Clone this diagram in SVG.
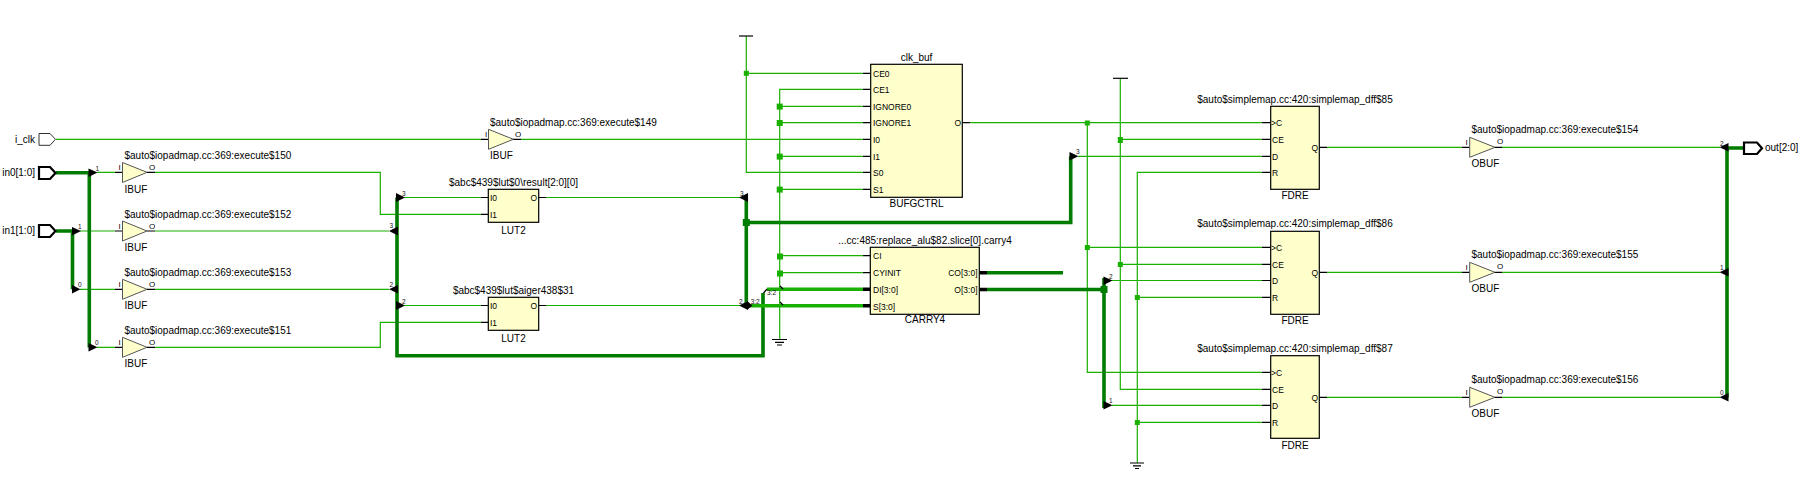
<svg xmlns="http://www.w3.org/2000/svg" width="1808" height="499" viewBox="0 0 1808 499">
<style>
text{font-family:"Liberation Sans",Arial,sans-serif;font-size:10px;fill:#000}
.m{text-anchor:middle}.e{text-anchor:end}
.n{font-size:6.5px;fill:#111}
.p{font-size:8.5px}
.q{font-size:8px}
.w{fill:none;stroke:#19b000;stroke-width:1.2}
.b{fill:none;stroke:#007c00;stroke-width:3.6}
.l{fill:none;stroke:#19b000;stroke-width:3.6}
.s{stroke:#000;stroke-width:1.2;fill:none}
.st{stroke:#000;stroke-width:3.6;fill:none}
.box{fill:#ffffcc;stroke:#000;stroke-width:1.2}
.tri{fill:#ffffcc;stroke:#555;stroke-width:1}
.pad{fill:#fff;stroke:#000;stroke-width:2.2}
.padt{fill:#fff;stroke:#333;stroke-width:1}
.j{fill:#19b000}.jb{fill:#007c00}
.r{fill:#000}
</style>
<g id="connectors">
<path class="w" d="M56 139.3H481M521 139.3H863"/>
<path class="w" d="M97 172.3H115M80 231H115M80 289.3H115M97 347.3H115"/>
<path class="w" d="M155 172.3H380.3V214.3H481M155 231H389M155 289.3H389M155 347.3H380.3V322.3H481"/>
<path class="w" d="M404 197.5H481M404 305.5H481M546 197.5H740M546 305.5H740"/>
<path class="w" d="M746.3 36V172.3H863M746.3 73.3H863"/>
<path class="w" d="M863 89.3H779.7V339.5M779.7 106.3H863M779.7 122.7H863M779.7 156.3H863M779.7 189.3H863M779.7 255.7H863M779.7 272.7H863"/>
<path class="w" d="M970 122.7H1262M1087.3 122.7V372.3H1262M1087.3 247.3H1262"/>
<path class="w" d="M1120.3 78.3V389.3H1262M1120.3 139.3H1262M1120.3 264.3H1262"/>
<path class="w" d="M1078 156.3H1262M1112 280.5H1262M1112 405.3H1262"/>
<path class="w" d="M1262 172.3H1137.3V462.7M1137.3 297.3H1262M1137.3 422.3H1262"/>
<path class="w" d="M1327 147.3H1462M1327 272.3H1462M1327 397.3H1462M1502 147.3H1720M1502 272.3H1720M1502 397.3H1720"/>
<path class="b" d="M56 172.7H89.3V347.5M56 231H72.5V289.3"/>
<path class="b" d="M397 197.5V355.7H763V293"/>
<path class="b" d="M746.3 197.5V305.5M746.3 222.5H1070.7V156.3"/>
<path class="b" d="M987 272.7H1063M987 289.5H1104M1104 278V408"/>
<path class="b" d="M1727 147.5V397.5M1727 148H1745"/>
<path class="l" d="M767 289.3H863M750 305.7H863"/>
<path d="M763.5 293L767 289M780 286L783 289M780 302L783 305" stroke="#000" stroke-width="1.2" fill="none"/>
<g class="j">
<rect x="743.8" y="70.8" width="5" height="5"/>
<rect x="776.7" y="103.6" width="6" height="6"/><rect x="776.7" y="120" width="6" height="6"/><rect x="776.7" y="153.6" width="6" height="6"/><rect x="776.7" y="186.6" width="6" height="6"/><rect x="777" y="253.5" width="6" height="6"/><rect x="777" y="270.5" width="6" height="6"/>
<rect x="1084.8" y="120.5" width="5" height="5"/><rect x="1084.8" y="245" width="5" height="5"/>
<rect x="1117.8" y="137" width="5" height="6"/><rect x="1117.8" y="262" width="5" height="5"/>
<rect x="1134.8" y="295" width="5" height="5"/><rect x="1134.8" y="420" width="5" height="5"/>
</g>
<g class="jb"><rect x="742.8" y="219" width="7" height="7"/><rect x="1100.5" y="286" width="7" height="7"/></g>
<g class="r">
<path d="M88.5 168.5L97.5 172.5L88.5 177ZM72 227L81 231L72 235.5ZM72 285L80.5 289.3L72 293.5ZM88.5 343L97.5 347.3L88.5 351.5Z"/>
<path d="M396 193L405 197.5L396 202ZM396 301L405 305.5L396 310ZM389 231L398 226.5V235.5ZM389 289.3L398 285V293.5Z"/>
<path d="M739 197.5L748 193V202ZM739 305.5L748 301V310ZM747 301L752.5 305.5L747 310Z"/>
<path d="M1069.5 152L1078.5 156.3L1069.5 160.5ZM1103.5 276.5L1112.5 280.5L1103.5 285ZM1103.5 401L1112.5 405.3L1103.5 409.5Z"/>
<path d="M1719.5 147.3L1728.5 143V151.5ZM1719.5 272.3L1728.5 268V276.5ZM1719.5 397.3L1728.5 393V401.5Z"/>
</g>
<g>
<text class="n" x="95.5" y="171">1</text><text class="n" x="78" y="229">1</text><text class="n" x="78" y="287">0</text><text class="n" x="95" y="345">0</text>
<text class="n" x="389.5" y="228">3</text><text class="n" x="389.5" y="287">2</text><text class="n" x="402" y="196">3</text><text class="n" x="402" y="304">2</text>
<text class="n" x="740" y="196">3</text><text class="n" x="739" y="303.5">2</text><text class="n" x="750.7" y="303.5">3:2</text><text class="n" x="767" y="295">3:2</text>
<text class="n" x="1076" y="154">3</text><text class="n" x="1109" y="279">2</text><text class="n" x="1109" y="403">1</text>
<text class="n" x="1720" y="146">2</text><text class="n" x="1720" y="270">1</text><text class="n" x="1720" y="395">0</text>
</g>
</g>

<g id="i_clk"><path class="padt" d="M39 133.5H50L55.5 139.3L50 145.3H39Z"/><text class="e" x="35" y="143">i_clk</text></g>
<g id="in0"><path class="pad" d="M39 167H50L55.5 173L50 179H39Z"/><text class="e" x="35" y="176">in0[1:0]</text></g>
<g id="in1"><path class="pad" d="M39 225H50L55.5 231L50 237H39Z"/><text class="e" x="35" y="234">in1[1:0]</text></g>
<g id="out"><path class="pad" d="M1744 142.5H1757L1762 148.3L1757 154H1744Z"/><text x="1765" y="151">out[2:0]</text></g>

<g id="ibuf150"><path class="s" d="M115 172.3H122.5M147 172.3H155"/><path class="tri" d="M122.5 162.5L147 172.3L122.5 182.5Z"/><text x="124.5" y="159">$auto$iopadmap.cc:369:execute$150</text><text x="124.5" y="192.5">IBUF</text><text class="q" x="118.5" y="170">I</text><text class="q" x="149" y="170">O</text></g>
<g id="ibuf152"><path class="s" d="M115 231H122.5M147 231H155"/><path class="tri" d="M122.5 221L147 231L122.5 241Z"/><text x="124.5" y="217.5">$auto$iopadmap.cc:369:execute$152</text><text x="124.5" y="250.5">IBUF</text><text class="q" x="118.5" y="228.5">I</text><text class="q" x="149" y="228.5">O</text></g>
<g id="ibuf153"><path class="s" d="M115 289.3H122.5M147 289.3H155"/><path class="tri" d="M122.5 279.3L147 289.3L122.5 299.3Z"/><text x="124.5" y="276">$auto$iopadmap.cc:369:execute$153</text><text x="124.5" y="308.5">IBUF</text><text class="q" x="118.5" y="287">I</text><text class="q" x="149" y="287">O</text></g>
<g id="ibuf151"><path class="s" d="M115 347.3H122.5M147 347.3H155"/><path class="tri" d="M122.5 337.3L147 347.3L122.5 357.3Z"/><text x="124.5" y="334">$auto$iopadmap.cc:369:execute$151</text><text x="124.5" y="367">IBUF</text><text class="q" x="118.5" y="345">I</text><text class="q" x="149" y="345">O</text></g>
<g id="ibuf149"><path class="s" d="M481 139.3H488.5M513 139.3H521"/><path class="tri" d="M488.5 129.3L513.3 139.3L488.5 149.3Z"/><text x="490" y="126">$auto$iopadmap.cc:369:execute$149</text><text x="490" y="158.5">IBUF</text><text class="q" x="485" y="137">I</text><text class="q" x="515" y="137">O</text></g>

<g id="lut0"><path class="s" d="M481 197.5H488.3M481 214.3H488.3M538.7 197.5H546"/><rect class="box" x="488.3" y="189.3" width="50.4" height="33"/><text class="m" x="513.5" y="186">$abc$439$lut$0\result[2:0][0]</text><text class="m" x="513.5" y="233.5">LUT2</text><text class="p" x="490" y="201">I0</text><text class="p" x="490" y="218">I1</text><text class="p e" x="537" y="201">O</text></g>
<g id="lut1"><path class="s" d="M481 305.5H488.3M481 322.3H488.3M538.7 305.5H546"/><rect class="box" x="488.3" y="297.3" width="50.4" height="33"/><text class="m" x="513.5" y="294">$abc$439$lut$aiger438$31</text><text class="m" x="513.5" y="341.5">LUT2</text><text class="p" x="490" y="309">I0</text><text class="p" x="490" y="326">I1</text><text class="p e" x="537" y="309">O</text></g>

<g id="clk_buf"><path class="s" d="M863 73.3H870.7M863 89.3H870.7M863 106.3H870.7M863 122.7H870.7M863 139.3H870.7M863 156.3H870.7M863 172.3H870.7M863 189.3H870.7M962.3 122.7H970"/><rect class="box" x="870.7" y="64.3" width="91.6" height="133"/><text class="m" x="916.5" y="60.5">clk_buf</text><text class="m" x="916.5" y="207">BUFGCTRL</text>
<text class="p" x="873" y="76.5">CE0</text><text class="p" x="873" y="93">CE1</text><text class="p" x="873" y="109.5">IGNORE0</text><text class="p" x="873" y="126">IGNORE1</text><text class="p" x="873" y="143">I0</text><text class="p" x="873" y="159.5">I1</text><text class="p" x="873" y="176">S0</text><text class="p" x="873" y="192.5">S1</text><text class="p e" x="961" y="126">O</text></g>

<g id="carry4"><path class="s" d="M863 255.7H870.3M863 272.7H870.3"/><path class="st" d="M863 289.3H870.3M863 305.7H870.3M979.3 272.7H987M979.3 289.5H987"/><rect class="box" x="870.3" y="247.3" width="109" height="67"/><text class="m" x="925" y="244">...cc:485:replace_alu$82.slice[0].carry4</text><text class="m" x="925" y="323">CARRY4</text><text class="p" x="873" y="259">CI</text><text class="p" x="873" y="276">CYINIT</text><text class="p" x="873" y="293">DI[3:0]</text><text class="p" x="873" y="309.5">S[3:0]</text><text class="p e" x="977.5" y="276">CO[3:0]</text><text class="p e" x="977.5" y="293">O[3:0]</text></g>

<g id="vcc0"><path class="s" d="M739 36H753"/></g>
<g id="gnd0"><path class="s" d="M772 339.5H787M775 342.3H784M777 345H782"/></g>
<g id="vcc1"><path class="s" d="M1113 78.3H1128"/></g>
<g id="gnd1"><path class="s" d="M1130 463H1144M1133 465.8H1141M1135 468.5H1139"/></g>

<g id="ff85"><path class="s" d="M1262 122.7H1270.7M1262 139.3H1270.7M1262 156.3H1270.7M1262 172.3H1270.7M1319.3 147.3H1327"/><rect class="box" x="1270.7" y="106.3" width="48.6" height="83"/><text class="m" x="1295" y="102.7">$auto$simplemap.cc:420:simplemap_dff$85</text><text class="m" x="1295" y="198.5">FDRE</text><text class="p" x="1271" y="126">&gt;C</text><text class="p" x="1272" y="143">CE</text><text class="p" x="1272" y="159.5">D</text><text class="p" x="1272" y="176">R</text><text class="p e" x="1318" y="151">Q</text></g>
<g id="ff86"><path class="s" d="M1262 247.3H1270.7M1262 264.3H1270.7M1262 280.5H1270.7M1262 297.3H1270.7M1319.3 272.3H1327"/><rect class="box" x="1270.7" y="231.3" width="48.6" height="83"/><text class="m" x="1295" y="226.7">$auto$simplemap.cc:420:simplemap_dff$86</text><text class="m" x="1295" y="323.5">FDRE</text><text class="p" x="1271" y="251">&gt;C</text><text class="p" x="1272" y="267.5">CE</text><text class="p" x="1272" y="284">D</text><text class="p" x="1272" y="301">R</text><text class="p e" x="1318" y="276">Q</text></g>
<g id="ff87"><path class="s" d="M1262 372.3H1270.7M1262 389.3H1270.7M1262 405.3H1270.7M1262 422.3H1270.7M1319.3 397.3H1327"/><rect class="box" x="1270.7" y="355.7" width="48.6" height="82.6"/><text class="m" x="1295" y="351.7">$auto$simplemap.cc:420:simplemap_dff$87</text><text class="m" x="1295" y="448.5">FDRE</text><text class="p" x="1271" y="376">&gt;C</text><text class="p" x="1272" y="392.5">CE</text><text class="p" x="1272" y="409">D</text><text class="p" x="1272" y="425.5">R</text><text class="p e" x="1318" y="401">Q</text></g>

<g id="obuf154"><path class="s" d="M1462 147.3H1469.7M1495 147.3H1502"/><path class="tri" d="M1469.7 137.3L1495 147.3L1469.7 157.3Z"/><text x="1471.5" y="133">$auto$iopadmap.cc:369:execute$154</text><text x="1471.5" y="167">OBUF</text><text class="q" x="1465.5" y="144.5">I</text><text class="q" x="1497" y="144">O</text></g>
<g id="obuf155"><path class="s" d="M1462 272.3H1469.7M1495 272.3H1502"/><path class="tri" d="M1469.7 262.3L1495 272.3L1469.7 282.3Z"/><text x="1471.5" y="258">$auto$iopadmap.cc:369:execute$155</text><text x="1471.5" y="291.5">OBUF</text><text class="q" x="1465.5" y="269.5">I</text><text class="q" x="1497" y="269">O</text></g>
<g id="obuf156"><path class="s" d="M1462 397.3H1469.7M1495 397.3H1502"/><path class="tri" d="M1469.7 387.3L1495 397.3L1469.7 407.3Z"/><text x="1471.5" y="383">$auto$iopadmap.cc:369:execute$156</text><text x="1471.5" y="416.5">OBUF</text><text class="q" x="1465.5" y="394.5">I</text><text class="q" x="1497" y="394">O</text></g>
</svg>
